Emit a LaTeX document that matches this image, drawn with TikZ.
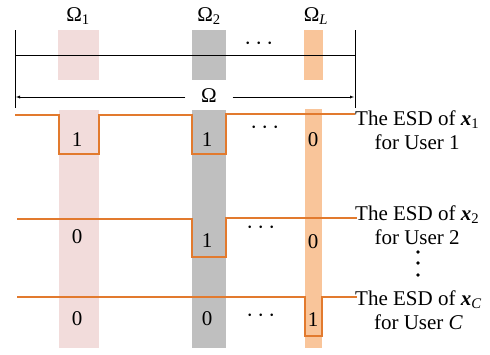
\documentclass[tikz,border=0pt]{standalone}
\usepackage{fontspec}
\setmainfont{Liberation Serif}
\usepackage{amsmath}
\usepackage{xcolor}
\definecolor{bandpink}{HTML}{F2DCDB}
\definecolor{bandgray}{HTML}{BFBFBF}
\definecolor{bandorange}{HTML}{F9C59A}
\definecolor{esdline}{HTML}{E27A2E}
\tikzset{
  lbl/.style={inner sep=0pt, font=\fontsize{21}{24}\selectfont},
  dotsl/.style={inner sep=0pt, font=\fontsize{30}{12}\selectfont},
  esd/.style={draw=esdline, line width=1.1pt},
  usertxt/.style={lbl, align=center, anchor=west}
}
\begin{document}
\begin{tikzpicture}[x=1pt,y=-1pt]
   \useasboundingbox (0,0) rectangle (490,354);
   % spectrum on top
   \fill[bandpink] (58,30) rectangle (99,80);
   \fill[bandgray] (192,30) rectangle (226,80);
   \fill[bandorange] (304,30) rectangle (323,80);
   \draw (15,55) -- (355,55);
   \draw (15,30) -- (15,108);
   \draw (355,30) -- (355,108);
   \node[lbl] (om1) at (78,16) {Ω\textsubscript{1}};
   \node[lbl] (om2) at (209,16) {Ω\textsubscript{2}};
   \node[lbl] (omL) at (316,16) {Ω\textsubscript{\textit{L}}};
   \node[dotsl] (topdots) at (261,44) {$\cdots$};
   \node[lbl, minimum width=47pt] (om) at (209,96) {Ω};
   \coordinate (arrL) at (16,97);
   \coordinate (arrR) at (354,97);
   \draw[->, >=latex] (om.west |- arrL) -- (arrL);
   \draw[->, >=latex] (om.east |- arrR) -- (arrR);
   % bands below
   \fill[bandpink] (59,110) rectangle (99,348);
   \fill[bandgray] (192,110) rectangle (226,348);
   \fill[bandorange] (305,109) rectangle (322,348);
   % ESD of user 1
   \draw[esd] (15,115) -| (59,154) -| (99,115) -| (192,154) -| (226,114) -- (355,114);
   \node[lbl] (a11) at (77,140) {1};
   \node[lbl] (a12) at (207,140) {1};
   \node[dotsl] (a1d) at (267,128) {$\cdots$};
   \node[lbl] (a1L) at (313,140) {0};
   \node[usertxt] (u1) at (355,130) {The ESD of \textbf{\textit{x}}\textsubscript{1}\\for User 1};
   % ESD of user 2
   \draw[esd] (17,219) -| (192,257) -| (226,218) -- (357,218);
   \node[lbl] (a21) at (77,237) {0};
   \node[lbl] (a22) at (207,241) {1};
   \node[dotsl] (a2d) at (263,228) {$\cdots$};
   \node[lbl] (a2L) at (313,242) {0};
   \node[usertxt] (u2) at (355,225) {The ESD of \textbf{\textit{x}}\textsubscript{2}\\for User 2};
   \foreach \y in {252,263,275}
     \fill (418,\y) circle [radius=1.8];
   % ESD of user C
   \draw[esd] (17,297) -| (305,336) -| (322,297) -- (357,297);
   \node[lbl] (aC1) at (77,319) {0};
   \node[lbl] (aC2) at (207,319) {0};
   \node[dotsl] (aCd) at (263,316) {$\cdots$};
   \node[lbl] (aCL) at (313,320) {1};
   \node[usertxt] (uC) at (355,310) {The ESD of \textbf{\textit{x}}\textsubscript{\textit{C}}\\for User \textit{C}};
 \end{tikzpicture}
\end{document}
